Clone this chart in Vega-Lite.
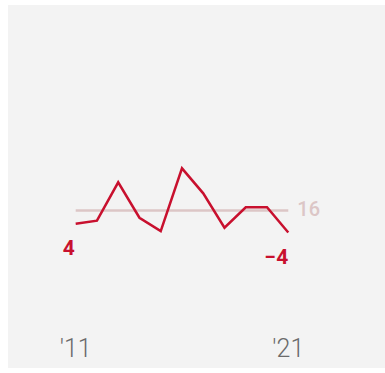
{
  "$schema": "https://vega.github.io/schema/vega-lite/v6.json",
  "width": 377,
  "height": 363,
  "autosize": "none",
  "padding": {"left": 8, "top": 5, "right": 0, "bottom": 5},
  "background": "white",
  "view": {"fill": "#f3f3f3", "stroke": null},
  "config": {"axis": {"disable": true}},
  "layer": [
    {
      "data": {"values": [{"start": 2011, "end": 2021, "ref": 16}]},
      "mark": {"type": "rule", "color": "#dcc6c6", "strokeWidth": 2.5},
      "encoding": {
        "x": {"field": "start", "type": "quantitative", "scale": {"domain": [2007.816, 2025.55], "nice": false, "zero": false}},
        "x2": {"field": "end"},
        "y": {"field": "ref", "type": "quantitative", "scale": {"domain": [-127.2, 202.8], "nice": false, "zero": false}}
      }
    },
    {
      "data": {"values": [
        {"year": 2011, "value": 4},
        {"year": 2012, "value": 6.7},
        {"year": 2013, "value": 41.6},
        {"year": 2014, "value": 9.4},
        {"year": 2015, "value": -2.7},
        {"year": 2016, "value": 54.3},
        {"year": 2017, "value": 31.6},
        {"year": 2018, "value": 0.3},
        {"year": 2019, "value": 18.9},
        {"year": 2020, "value": 18.9},
        {"year": 2021, "value": -4}
      ]},
      "mark": {"type": "line", "color": "#c8102e", "strokeWidth": 2.5},
      "encoding": {
        "x": {"field": "year", "type": "quantitative"},
        "y": {"field": "value", "type": "quantitative"}
      }
    },
    {
      "data": {"values": [{"year": 2011, "value": 4, "label": "4"}]},
      "mark": {"type": "text", "color": "#c8102e", "font": "Roboto", "fontWeight": "bold", "fontSize": 21, "align": "center", "baseline": "middle", "dx": -7, "dy": 25},
      "encoding": {
        "x": {"field": "year", "type": "quantitative"},
        "y": {"field": "value", "type": "quantitative"},
        "text": {"field": "label"}
      }
    },
    {
      "data": {"values": [{"year": 2021, "value": -4, "label": "−4"}]},
      "mark": {"type": "text", "color": "#c8102e", "font": "Roboto", "fontWeight": "bold", "fontSize": 21, "align": "right", "baseline": "middle", "dx": 0, "dy": 26},
      "encoding": {
        "x": {"field": "year", "type": "quantitative"},
        "y": {"field": "value", "type": "quantitative"},
        "text": {"field": "label"}
      }
    },
    {
      "data": {"values": [{"year": 2021, "value": 16, "label": "16"}]},
      "mark": {"type": "text", "color": "#dcc6c6", "font": "Roboto", "fontWeight": 500, "fontSize": 20, "align": "left", "baseline": "middle", "dx": 9, "dy": 0},
      "encoding": {
        "x": {"field": "year", "type": "quantitative"},
        "y": {"field": "value", "type": "quantitative"},
        "text": {"field": "label"}
      }
    },
    {
      "data": {"values": [{"year": 2011, "pos": -109.5, "label": "'11"}, {"year": 2021, "pos": -109.5, "label": "'21"}]},
      "mark": {"type": "text", "color": "#6b6b6b", "font": "Roboto", "fontWeight": 300, "fontSize": 25, "align": "center", "baseline": "middle"},
      "encoding": {
        "x": {"field": "year", "type": "quantitative"},
        "y": {"field": "pos", "type": "quantitative"},
        "text": {"field": "label"}
      }
    }
  ]
}
